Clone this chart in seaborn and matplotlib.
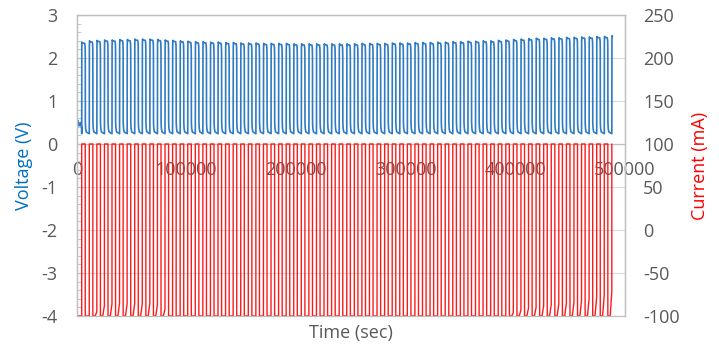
import numpy as np
import pandas as pd
import matplotlib
matplotlib.use("Agg")
import matplotlib.pyplot as plt
from matplotlib.ticker import MultipleLocator
import seaborn as sns

# Cycling test: voltage and current vs time
cycle_period_sec = 6910
first_cycle_sec = 4300
end_sec = 490500

# top of each charge plateau (V), one per cycle
peak_voltage = [2.37, 2.40, 2.41, 2.42, 2.42, 2.43, 2.43, 2.44, 2.44, 2.44,
                2.43, 2.42, 2.41, 2.40, 2.39, 2.38, 2.38, 2.37, 2.37, 2.36,
                2.36, 2.35, 2.35, 2.35, 2.34, 2.34, 2.34, 2.34, 2.33, 2.33,
                2.33, 2.33, 2.33, 2.33, 2.33, 2.33, 2.33, 2.34, 2.34, 2.34,
                2.34, 2.35, 2.35, 2.35, 2.36, 2.36, 2.36, 2.37, 2.37, 2.38,
                2.38, 2.39, 2.39, 2.40, 2.40, 2.41, 2.42, 2.43, 2.44, 2.45,
                2.46, 2.46, 2.47, 2.47, 2.48, 2.48, 2.49, 2.49, 2.50, 2.50, 2.52]

# current reached at the end of each discharge (mA)
discharge_end_current = [-100, -95, -88, -86, -85, -86, -85, -86, -85, -87,
                         -92, -100, -100, -100, -100, -100, -100, -100, -100, -100,
                         -100, -100, -100, -100, -100, -100, -100, -100, -100, -100,
                         -100, -100, -100, -100, -100, -100, -100, -100, -100, -100,
                         -100, -100, -100, -100, -100, -100, -100, -100, -100, -100,
                         -100, -100, -100, -100, -100, -100, -96, -93, -91, -90,
                         -88, -87, -86, -85, -84, -82, -80, -78, -76, -72, -100]

# shape of one cycle (fraction of period -> value), read from a single period
cycle_phase = [0.0, 0.012, 0.035, 0.07, 0.40, 0.45, 0.47, 0.48, 0.52, 0.60, 0.995]
cycle_voltage = [0.24, 2.28, 2.40, 2.38, 2.37, 2.30, 2.10, 0.50, 0.36, 0.28, 0.24]
current_phase = [0.0, 0.47, 0.47, 0.78, 0.995]
current_ma = [100, 100, -100, -100, None]  # None -> discharge_end_current

# before the first cycle
start_time = [0, 800, 1800, 3000, 4300]
start_voltage = [0.45, 0.55, 0.42, 0.50, 0.38]
start_current_time = [0, 150, 4300]
start_current = [-40, -100, -100]

# build the traces
v_rows = list(zip(start_time, start_voltage))
i_rows = list(zip(start_current_time, start_current))
for k, peak in enumerate(peak_voltage):
    t0 = first_cycle_sec + k * cycle_period_sec
    for ph, v in zip(cycle_phase, cycle_voltage):
        t = t0 + ph * cycle_period_sec
        if t > end_sec:
            break
        v_rows.append((t, v + (peak - 2.40) if v > 1.5 else v))
    for ph, c in zip(current_phase, current_ma):
        t = t0 + ph * cycle_period_sec
        if t > end_sec:
            break
        i_rows.append((t, discharge_end_current[k] if c is None else c))

volt = pd.DataFrame(v_rows, columns=["time", "voltage"])
curr = pd.DataFrame(i_rows, columns=["time", "current"])

sns.set_style("white")
plt.rcParams["font.family"] = ["Open Sans", "DejaVu Sans"]
plt.rcParams["axes.unicode_minus"] = False

fig = plt.figure(figsize=(7.19, 3.47), dpi=100)
ax = fig.add_axes([77 / 719, 1 - 316 / 347, 548 / 719, 301 / 347])
ax2 = ax.twinx()

frame = "#BFBFBF"
tick_col = "#595959"

sns.lineplot(data=volt, x="time", y="voltage", ax=ax, color="#2E7BC4",
             linewidth=1.2, sort=False, estimator=None)
sns.lineplot(data=curr, x="time", y="current", ax=ax2, color="#FF1A1A",
             linewidth=1.0, sort=False, estimator=None)
for line in ax.lines + ax2.lines:
    line.set_snap(False)

ax.set_xlim(0, 500000)
ax.set_ylim(-4, 3)
ax2.set_ylim(-100, 250)

ax.xaxis.set_major_locator(MultipleLocator(100000))
ax.yaxis.set_major_locator(MultipleLocator(1))
ax.yaxis.set_minor_locator(MultipleLocator(0.2))
ax2.yaxis.set_major_locator(MultipleLocator(50))

ax.yaxis.grid(True, color="#D9D9D9", linewidth=0.8)
ax.xaxis.grid(False)
ax.set_axisbelow(True)

ax.spines["bottom"].set_position(("data", 0))
for a in (ax, ax2):
    for s in a.spines.values():
        s.set_color(frame)
        s.set_linewidth(0.9)
        s.set_visible(True)

ax.tick_params(axis="x", which="major", direction="in", length=5, color=frame,
               labelsize=13, labelcolor=tick_col, pad=12)
ax.tick_params(axis="y", which="major", direction="in", length=4, color=frame,
               labelsize=13, labelcolor=tick_col, pad=14)
ax.tick_params(axis="y", which="minor", direction="in", length=3, color=frame, left=True)
ax2.tick_params(axis="y", length=0, labelsize=13, labelcolor=tick_col, pad=13)

ax.set_xlabel("Time (sec)", fontsize=13, color=tick_col)
ax.xaxis.set_label_coords(0.5, -0.025)
ax.set_ylabel("Voltage (V)", fontsize=13, color="#0070C0", labelpad=6)
ax2.set_ylabel("Current (mA)", fontsize=13, color="#FF0000", labelpad=8, rotation=90)

fig.savefig("out.png", dpi=100)
